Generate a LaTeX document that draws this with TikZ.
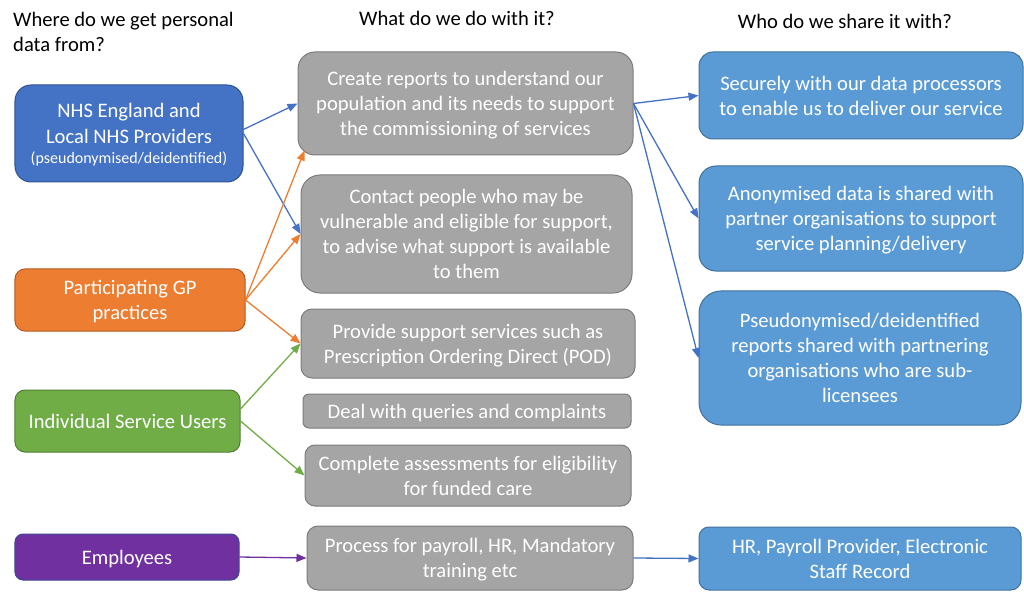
\documentclass[tikz,border=0pt]{standalone}
\usepackage{fontspec}
\setmainfont{Carlito}
\usetikzlibrary{arrows.meta,calc}
\definecolor{nhsblue}{HTML}{4472C4}
\definecolor{nhsline}{HTML}{2F528F}
\definecolor{gporange}{HTML}{ED7D31}
\definecolor{gpline}{HTML}{AE5A21}
\definecolor{isugreen}{HTML}{70AD47}
\definecolor{isuline}{HTML}{507E32}
\definecolor{emppurple}{HTML}{7030A0}
\definecolor{empline}{HTML}{3A4A95}
\definecolor{grayfill}{HTML}{A5A5A5}
\definecolor{grayline}{HTML}{7C7C7C}
\definecolor{sharefill}{HTML}{5B9BD5}
\definecolor{shareline}{HTML}{41719C}
\newcommand\mainfs{\fontsize{20.6bp}{25bp}\selectfont}
\newcommand\smallfs{\fontsize{16bp}{21bp}\selectfont}
\begin{document}
\begin{tikzpicture}[x=1bp,y=-1bp,
  box/.style={draw, line width=1bp, text=white, align=center, inner sep=0pt, font=\mainfs, text depth=-3bp},
  srcnhs/.style={box, fill=nhsblue, draw=nhsline},
  srcgp/.style={box, fill=gporange, draw=gpline},
  srcisu/.style={box, fill=isugreen, draw=isuline},
  srcemp/.style={box, fill=emppurple, draw=empline},
  usebox/.style={box, fill=grayfill, draw=grayline},
  sharebox/.style={box, fill=sharefill, draw=shareline},
  conn/.style={line width=1.3bp, -{Triangle[length=10bp,width=8bp]}},
  heading/.style={font=\mainfs, text=black, inner sep=0pt}]
\useasboundingbox (0,0) rectangle (1024,596);

% headings
\node[heading, align=left, anchor=north west] (h1) at (13,12) {Where do we get personal\\data from?};
\node[heading, anchor=base] (h2) at (457,26) {What do we do with it?};
\node[heading, anchor=base] (h3) at (845,29) {Who do we share it with?};

% sources
\node[srcnhs, minimum width=228bp, minimum height=97bp, rounded corners=16bp, text depth=0bp] (nhs) at (129,133.5)
  {NHS England and\\[1bp]Local NHS Providers\\[-5bp]{\smallfs (pseudonymised/deidentified)}};
\node[srcgp, minimum width=230bp, minimum height=62bp, rounded corners=10bp] (gp) at (130,300)
  {Participating GP\\practices};
\node[srcisu, minimum width=225bp, minimum height=62bp, rounded corners=10bp] (isu) at (127.5,421)
  {Individual Service Users};
\node[srcemp, minimum width=224bp, minimum height=46bp, rounded corners=8bp] (emp) at (127,557)
  {Employees};

% uses
\node[usebox, minimum width=335bp, minimum height=103bp, rounded corners=17bp] (b1) at (465.5,103.5)
  {Create reports to understand our\\population and its needs to support\\the commissioning of services};
\node[usebox, minimum width=331bp, minimum height=118bp, rounded corners=19bp, text depth=0bp] (b2) at (466.5,234)
  {Contact people who may be\\vulnerable and eligible for support,\\to advise what support is available\\to them};
\node[usebox, minimum width=334bp, minimum height=69bp, rounded corners=11bp] (b3) at (468,343.5)
  {Provide support services such as\\Prescription Ordering Direct (POD)};
\node[usebox, minimum width=328bp, minimum height=34bp, rounded corners=6bp] (b4) at (467,411)
  {Deal with queries and complaints};
\node[usebox, minimum width=326bp, minimum height=61bp, rounded corners=10bp, text depth=0bp] (b5) at (468,475.5)
  {Complete assessments for eligibility\\for funded care};
\node[usebox, minimum width=326bp, minimum height=64bp, rounded corners=11bp] (b6) at (470,558)
  {Process for payroll, HR, Mandatory\\training etc};

% sharing
\node[sharebox, minimum width=324bp, minimum height=87bp, rounded corners=14bp] (r1) at (861,95.5)
  {Securely with our data processors\\to enable us to deliver our service};
\node[sharebox, minimum width=324bp, minimum height=105bp, rounded corners=17bp] (r2) at (861,218.5)
  {Anonymised data is shared with\\partner organisations to support\\service planning/delivery};
\node[sharebox, minimum width=322bp, minimum height=134bp, rounded corners=22bp] (r3) at (860,358)
  {Pseudonymised/deidentified\\reports shared with partnering\\organisations who are sub-\\licensees};
\node[sharebox, minimum width=322bp, minimum height=63bp, rounded corners=10bp] (r4) at (860,558.5)
  {HR, Payroll Provider, Electronic\\Staff Record};

% connectors
\draw[conn, nhsblue] ($(nhs.east)+(0,-4)$) -- (b1.west);
\draw[conn, nhsblue] (nhs.east) -- (b2.west);
\draw[conn, gporange] (gp.east) -- ($(b1.south west)+(7,-5)$);
\draw[conn, gporange] (gp.east) -- (b2.west);
\draw[conn, gporange] (gp.east) -- (b3.west);
\draw[conn, isugreen] ($(isu.east)+(0,-12)$) -- (b3.west);
\draw[conn, isugreen] (isu.east) -- (b5.west);
\draw[conn, emppurple] (emp.east) -- (b6.west);
\draw[conn, nhsblue] (b1.east) -- (r1.west);
\draw[conn, nhsblue] (b1.east) -- (r2.west);
\draw[conn, nhsblue] (b1.east) -- (r3.west);
\draw[conn, nhsblue] (b6.east) -- (r4.west);
\end{tikzpicture}
\end{document}
